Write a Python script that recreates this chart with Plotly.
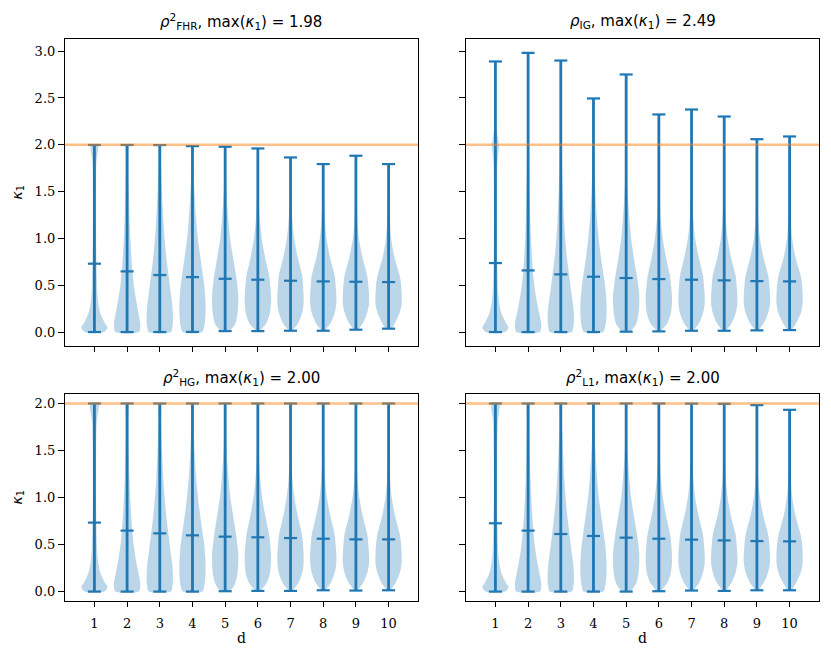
import plotly.graph_objects as go

# ---------------- data ----------------
D = [1, 2, 3, 4, 5, 6, 7, 8, 9, 10]
# y levels at which the violin widths (relative density, 1 = widest) were read
YG = [0, 0.05, 0.1, 0.2, 0.3, 0.4, 0.5, 0.6, 0.8, 1.0, 1.2, 1.5, 1.8, 2.0, 2.2, 2.4, 2.6, 2.8]

FHR_MIN = [0.0, 0.0, 0.0, 0.001, 0.01, 0.01, 0.014, 0.014, 0.025, 0.036]
FHR_MEAN = [0.730, 0.648, 0.609, 0.587, 0.569, 0.559, 0.548, 0.541, 0.537, 0.534]
FHR_MAX = [1.998, 1.998, 1.997, 1.986, 1.979, 1.961, 1.865, 1.794, 1.883, 1.794]
FHR_WIDTH = [
    [0.75, 1.0, 0.78, 0.46, 0.3, 0.23, 0.2, 0.18, 0.15, 0.13, 0.12, 0.12, 0.15, 0.25],
    [0.9, 1.0, 1.0, 0.87, 0.74, 0.62, 0.51, 0.44, 0.33, 0.25, 0.19, 0.14, 0.1, 0.08],
    [0.85, 0.95, 1.0, 1.0, 0.95, 0.85, 0.76, 0.67, 0.5, 0.37, 0.27, 0.17, 0.09, 0.06],
    [0.75, 0.88, 0.95, 1.0, 1.0, 0.96, 0.9, 0.8, 0.6, 0.41, 0.28, 0.15, 0.07, 0.04],
    [0.3, 0.6, 0.8, 0.95, 1.0, 1.0, 0.93, 0.84, 0.6, 0.38, 0.24, 0.11, 0.05, 0.03],
    [0.1, 0.4, 0.67, 0.92, 1.0, 1.0, 0.95, 0.87, 0.55, 0.3, 0.15, 0.06, 0.03, 0.02],
    [0.1, 0.35, 0.6, 0.88, 1.0, 1.0, 0.95, 0.9, 0.55, 0.28, 0.14, 0.05, 0.02, 0.02],
    [0.1, 0.33, 0.58, 0.87, 1.0, 1.0, 0.95, 0.88, 0.52, 0.26, 0.13, 0.05, 0.02],
    [0.12, 0.3, 0.55, 0.85, 1.0, 1.0, 0.95, 0.87, 0.5, 0.23, 0.11, 0.05, 0.02, 0.01],
    [0.15, 0.3, 0.5, 0.83, 1.0, 1.0, 0.96, 0.85, 0.45, 0.2, 0.1, 0.04, 0.02],
]

IG_MIN = [0.0, 0.0, 0.0, 0.0, 0.004, 0.007, 0.014, 0.014, 0.018, 0.021]
IG_MEAN = [0.737, 0.658, 0.616, 0.591, 0.577, 0.566, 0.559, 0.552, 0.544, 0.541]
IG_MAX = [2.890, 2.982, 2.900, 2.495, 2.751, 2.324, 2.377, 2.302, 2.060, 2.089]
IG_WIDTH = [
    [0.75, 1.0, 0.8, 0.46, 0.3, 0.22, 0.18, 0.16, 0.13, 0.12, 0.11, 0.12, 0.15, 0.26, 0.06, 0.04, 0.03, 0.02, 0.01],
    [0.9, 1.0, 1.0, 0.85, 0.7, 0.58, 0.48, 0.4, 0.3, 0.22, 0.17, 0.12, 0.08, 0.06, 0.04, 0.03, 0.02, 0.02, 0.01],
    [0.85, 0.95, 1.0, 1.0, 0.93, 0.83, 0.73, 0.64, 0.47, 0.34, 0.25, 0.16, 0.09, 0.06, 0.04, 0.03, 0.02, 0.01, 0.01],
    [0.75, 0.88, 0.95, 1.0, 1.0, 0.95, 0.88, 0.78, 0.57, 0.4, 0.27, 0.15, 0.07, 0.04, 0.03, 0.02, 0.01],
    [0.3, 0.6, 0.8, 0.95, 1.0, 1.0, 0.92, 0.82, 0.58, 0.38, 0.25, 0.12, 0.05, 0.03, 0.02, 0.015, 0.01, 0.01],
    [0.1, 0.4, 0.67, 0.92, 1.0, 1.0, 0.93, 0.85, 0.55, 0.3, 0.15, 0.05, 0.02, 0.015, 0.01, 0.01],
    [0.1, 0.35, 0.6, 0.88, 1.0, 1.0, 0.95, 0.88, 0.55, 0.28, 0.14, 0.05, 0.02, 0.01, 0.01, 0.01],
    [0.1, 0.33, 0.58, 0.87, 1.0, 1.0, 0.95, 0.88, 0.52, 0.26, 0.13, 0.05, 0.02, 0.01, 0.01, 0.01],
    [0.12, 0.3, 0.55, 0.85, 1.0, 1.0, 0.95, 0.87, 0.5, 0.23, 0.11, 0.05, 0.02, 0.01, 0.01],
    [0.15, 0.3, 0.52, 0.85, 1.0, 1.0, 0.96, 0.85, 0.45, 0.2, 0.1, 0.04, 0.02, 0.01, 0.01],
]

HG_MIN = [0.0, 0.0, 0.0, 0.0, 0.004, 0.007, 0.007, 0.014, 0.011, 0.014]
HG_MEAN = [0.733, 0.648, 0.619, 0.598, 0.584, 0.577, 0.569, 0.562, 0.555, 0.555]
HG_MAX = [1.999, 1.999, 1.999, 1.999, 1.999, 1.999, 1.999, 1.999, 1.999, 1.999]
HG_WIDTH = [
    [0.75, 1.0, 0.78, 0.45, 0.3, 0.22, 0.19, 0.17, 0.14, 0.12, 0.12, 0.13, 0.18, 0.3],
    [0.9, 1.0, 1.0, 0.86, 0.72, 0.6, 0.5, 0.43, 0.32, 0.24, 0.18, 0.13, 0.1, 0.1],
    [0.85, 0.95, 1.0, 1.0, 0.95, 0.85, 0.76, 0.67, 0.5, 0.37, 0.27, 0.17, 0.1, 0.07],
    [0.75, 0.88, 0.95, 1.0, 1.0, 0.96, 0.9, 0.8, 0.6, 0.42, 0.29, 0.16, 0.08, 0.05],
    [0.3, 0.62, 0.8, 0.95, 1.0, 1.0, 0.93, 0.84, 0.62, 0.4, 0.26, 0.12, 0.06, 0.04],
    [0.15, 0.45, 0.7, 0.93, 1.0, 1.0, 0.95, 0.87, 0.58, 0.33, 0.18, 0.07, 0.03, 0.02],
    [0.1, 0.38, 0.63, 0.9, 1.0, 1.0, 0.95, 0.88, 0.56, 0.3, 0.15, 0.06, 0.03, 0.02],
    [0.1, 0.35, 0.6, 0.88, 1.0, 1.0, 0.95, 0.88, 0.55, 0.28, 0.14, 0.05, 0.02, 0.02],
    [0.1, 0.33, 0.58, 0.87, 1.0, 1.0, 0.95, 0.88, 0.53, 0.26, 0.12, 0.05, 0.02, 0.02],
    [0.12, 0.32, 0.56, 0.86, 1.0, 1.0, 0.96, 0.87, 0.5, 0.24, 0.11, 0.04, 0.02, 0.02],
]

L1_MIN = [0.0, 0.0, 0.0, 0.0, 0.0, 0.004, 0.011, 0.007, 0.014, 0.014]
L1_MEAN = [0.726, 0.648, 0.612, 0.591, 0.573, 0.562, 0.552, 0.544, 0.537, 0.534]
L1_MAX = [1.999, 1.999, 1.999, 1.999, 1.999, 1.999, 1.998, 1.996, 1.982, 1.932]
L1_WIDTH = [
    [0.75, 1.0, 0.78, 0.45, 0.3, 0.22, 0.19, 0.17, 0.14, 0.12, 0.12, 0.13, 0.18, 0.28],
    [0.9, 1.0, 1.0, 0.86, 0.72, 0.6, 0.5, 0.43, 0.32, 0.24, 0.18, 0.13, 0.1, 0.08],
    [0.85, 0.95, 1.0, 1.0, 0.95, 0.85, 0.76, 0.67, 0.5, 0.37, 0.27, 0.17, 0.09, 0.06],
    [0.75, 0.88, 0.95, 1.0, 1.0, 0.96, 0.9, 0.8, 0.6, 0.41, 0.28, 0.15, 0.07, 0.04],
    [0.3, 0.6, 0.8, 0.95, 1.0, 1.0, 0.93, 0.84, 0.6, 0.38, 0.24, 0.11, 0.05, 0.03],
    [0.12, 0.42, 0.68, 0.92, 1.0, 1.0, 0.95, 0.87, 0.56, 0.31, 0.16, 0.06, 0.03, 0.02],
    [0.1, 0.36, 0.6, 0.88, 1.0, 1.0, 0.95, 0.88, 0.55, 0.28, 0.14, 0.05, 0.02, 0.02],
    [0.1, 0.34, 0.58, 0.87, 1.0, 1.0, 0.95, 0.88, 0.52, 0.26, 0.13, 0.05, 0.02, 0.02],
    [0.12, 0.3, 0.55, 0.85, 1.0, 1.0, 0.95, 0.87, 0.5, 0.23, 0.11, 0.05, 0.02, 0.01],
    [0.15, 0.3, 0.52, 0.85, 1.0, 1.0, 0.96, 0.85, 0.46, 0.21, 0.1, 0.04, 0.02, 0.01],
]

TITLES = [
    "<i>ρ</i><sup>2</sup><sub>FHR</sub>, max(<i>κ</i><sub>1</sub>) = 1.98",
    "<i>ρ</i><sub>IG</sub>, max(<i>κ</i><sub>1</sub>) = 2.49",
    "<i>ρ</i><sup>2</sup><sub>HG</sub>, max(<i>κ</i><sub>1</sub>) = 2.00",
    "<i>ρ</i><sup>2</sup><sub>L1</sub>, max(<i>κ</i><sub>1</sub>) = 2.00",
]
REFERENCE_LEVEL = 2.0
TOP_TICKS = [0.0, 0.5, 1.0, 1.5, 2.0, 2.5, 3.0]
BOTTOM_TICKS = [0.0, 0.5, 1.0, 1.5, 2.0]

# ---------------- styling ----------------
OFF = 8                      # page body margin of the browser
W, H = 831 - OFF, 658 - OFF  # figure size so that it fills the window
BLUE = "#1f77b4"
BODY = "rgba(31,119,180,0.3)"
ORANGE = "rgba(255,127,14,0.5)"
HALF = 0.4      # half width of widest violin (data units)
CAP = 0.2       # half length of caps
SERIF = "DejaVu Serif"
SANS = "DejaVu Sans"

# panel boxes in window pixels: (left, top, right, bottom)
BOXES = [(65, 39, 418, 346), (466, 39, 819, 346), (65, 394, 418, 601), (466, 394, 819, 601)]


def px(xw):
    return (xw - OFF) / W


def py(yw):
    return 1 - (yw - OFF) / H


panels = [
    (FHR_MIN, FHR_MEAN, FHR_MAX, FHR_WIDTH),
    (IG_MIN, IG_MEAN, IG_MAX, IG_WIDTH),
    (HG_MIN, HG_MEAN, HG_MAX, HG_WIDTH),
    (L1_MIN, L1_MEAN, L1_MAX, L1_WIDTH),
]

fig = go.Figure()


def outline(d, vmin, vmax, w):
    inner = [g for g in YG[1:] if g < vmax - 0.02]
    n = min(len(inner) + 1, len(w) - 1)
    ys = [vmin] + inner[: n - 1] + [vmax]
    ws = w[:n] + [w[-1]]
    xr = [d + HALF * v for v in ws]
    xl = [d - HALF * v for v in ws]
    return xr + xl[::-1] + [xr[0]], ys + ys[::-1] + [ys[0]]


for i, (mins, means, maxs, widths) in enumerate(panels):
    xa = "x" if i == 0 else f"x{i + 1}"
    ya = "y" if i == 0 else f"y{i + 1}"
    for d, vmin, vmax, w in zip(D, mins, maxs, widths):
        xs, ys = outline(d, vmin, vmax, w)
        fig.add_trace(go.Scatter(
            x=xs, y=ys, mode="lines", fill="toself", fillcolor=BODY,
            line=dict(width=0, shape="spline", smoothing=0.8, color=BODY),
            xaxis=xa, yaxis=ya, hoverinfo="skip", showlegend=False))
    # stems
    sx, sy = [], []
    for d, vmin, vmax in zip(D, mins, maxs):
        sx += [d, d, None]
        sy += [vmin, vmax, None]
    fig.add_trace(go.Scatter(x=sx, y=sy, mode="lines", line=dict(color=BLUE, width=2.8),
                             xaxis=xa, yaxis=ya, hoverinfo="skip", showlegend=False))
    # caps (min, mean, max)
    cx, cy = [], []
    for d, vmin, vmean, vmax in zip(D, mins, means, maxs):
        for v in (vmin, vmean, vmax):
            cx += [d - CAP, d + CAP, None]
            cy += [v, v, None]
    fig.add_trace(go.Scatter(x=cx, y=cy, mode="lines", line=dict(color=BLUE, width=2.2),
                             xaxis=xa, yaxis=ya, hoverinfo="skip", showlegend=False))

    # reference line at kappa=2
    fig.add_shape(type="line", xref=f"{xa} domain", yref=ya, x0=0, x1=1,
                  y0=REFERENCE_LEVEL, y1=REFERENCE_LEVEL,
                  line=dict(color=ORANGE, width=2.5), layer="above")

layout = dict(width=W, height=H, margin=dict(l=0, r=0, t=0, b=0),
              paper_bgcolor="white", plot_bgcolor="white", showlegend=False)

for i, (l, t, r, b) in enumerate(BOXES):
    suf = "" if i == 0 else str(i + 1)
    top = i < 2
    ticks = TOP_TICKS if top else BOTTOM_TICKS
    layout["xaxis" + suf] = dict(
        domain=[px(l), px(r)], anchor="y" + suf, range=[0.1, 10.9],
        tickvals=D, ticktext=[str(d) for d in D], showticklabels=not top,
        ticks="outside", ticklen=5, tickwidth=1, tickcolor="black",
        ticklabelstandoff=5,
        showline=True, linecolor="black", linewidth=1.2, mirror=True,
        showgrid=False, zeroline=False,
        tickfont=dict(family=SERIF, size=13, color="black"))
    layout["yaxis" + suf] = dict(
        domain=[py(b), py(t)], anchor="x" + suf,
        range=[-0.149, 3.13] if top else [-0.1, 2.1],
        tickvals=ticks, ticktext=[f"{v:.1f}" for v in ticks],
        showticklabels=(i % 2 == 0),
        ticks="outside", ticklen=6, tickwidth=1, tickcolor="black",
        showline=True, linecolor="black", linewidth=1.2, mirror=True,
        showgrid=False, zeroline=False,
        tickfont=dict(family=SERIF, size=13, color="black"))

annotations = []
for i, (l, t, r, b) in enumerate(BOXES):
    cx = px((l + r) / 2)
    annotations.append(dict(text=TITLES[i], x=cx, y=py(t - 17), xref="paper", yref="paper",
                            xanchor="center", yanchor="middle", showarrow=False,
                            font=dict(family=SANS, size=15, color="black")))
    if i % 2 == 0:
        annotations.append(dict(text="<i>κ</i><sub>1</sub>", x=px(17), y=py((t + b) / 2),
                                xref="paper", yref="paper", textangle=-90,
                                xanchor="center", yanchor="middle", showarrow=False,
                                font=dict(family=SANS, size=14, color="black")))
    if i >= 2:
        annotations.append(dict(text="d", x=cx, y=py(638), xref="paper", yref="paper",
                                xanchor="center", yanchor="middle", showarrow=False,
                                font=dict(family=SERIF, size=14, color="black")))
layout["annotations"] = annotations

fig.update_layout(**layout)
fig.write_html("out.html")
